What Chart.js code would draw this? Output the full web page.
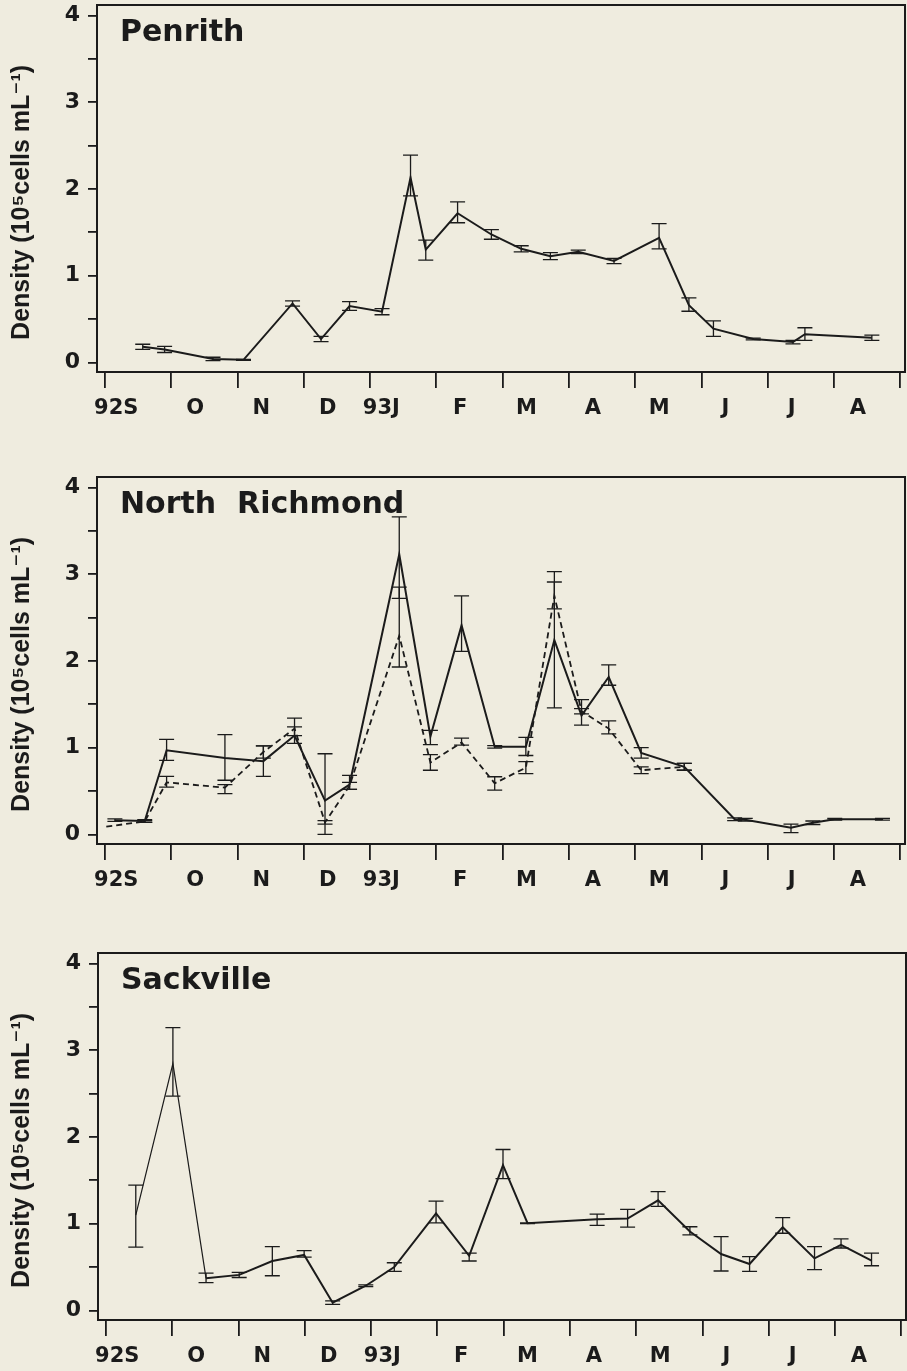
<!DOCTYPE html>
<html>
<head>
<meta charset="utf-8">
<script src="https://cdn.jsdelivr.net/npm/chart.js@4.4.1/dist/chart.umd.min.js"></script>
<style>
  html, body { margin: 0; padding: 0; background: #efecdf; }
  #page { position: relative; width: 907px; height: 1371px; overflow: hidden; }
  canvas.panel { position: absolute; left: 0; }
</style>
</head>
<body>
<div id="page">
  <canvas id="penrith" class="panel"></canvas>
  <canvas id="richmond" class="panel"></canvas>
  <canvas id="sackville" class="panel"></canvas>
</div>
<script>
// Month labels along the time axis (month 0 = September 1992)
const monthLabels = ['92S', 'O', 'N', 'D', '93J', 'F', 'M', 'A', 'M', 'J', 'J', 'A'];
// Density axis, 10^5 cells per mL
const densityTicks = [0, 1, 2, 3, 4];

// Penrith: sampling time (months after 1 Sep 1992), mean density, error bar ends
const penrithMonth = [0.57, 0.90, 1.63, 2.09, 2.83, 3.26, 3.69, 4.18, 4.61, 4.84, 5.32, 5.83, 6.28, 6.72, 7.14, 7.68, 8.36, 8.81, 9.18, 9.78, 10.38, 10.56, 11.57];
const penrithMean  = [0.18, 0.15, 0.04, 0.03, 0.68, 0.27, 0.65, 0.585, 2.13, 1.30, 1.72, 1.475, 1.31, 1.225, 1.275, 1.17, 1.435, 0.66, 0.39, 0.27, 0.235, 0.325, 0.285];
const penrithLow   = [0.15, 0.115, 0.02, 0.025, 0.65, 0.24, 0.60, 0.55, 1.92, 1.18, 1.61, 1.42, 1.275, 1.185, 1.255, 1.14, 1.31, 0.59, 0.30, 0.26, 0.215, 0.255, 0.255];
const penrithHigh  = [0.21, 0.185, 0.06, 0.035, 0.71, 0.30, 0.70, 0.62, 2.39, 1.41, 1.85, 1.53, 1.345, 1.265, 1.295, 1.20, 1.60, 0.745, 0.48, 0.28, 0.255, 0.40, 0.315];

// North Richmond, first series (solid line)
const richmondAMonth = [0.15, 0.60, 0.93, 1.81, 2.39, 2.86, 3.32, 3.69, 4.44, 4.91, 5.38, 5.88, 6.35, 6.78, 7.19, 7.60, 8.09, 8.74, 9.50, 9.66, 10.35, 10.68, 11.01, 11.73];
const richmondAMean  = [0.165, 0.155, 0.97, 0.88, 0.845, 1.14, 0.39, 0.575, 3.23, 1.13, 2.41, 1.01, 1.01, 2.24, 1.37, 1.815, 0.94, 0.78, 0.175, 0.17, 0.077, 0.135, 0.175, 0.175];
const richmondALow   = [0.15, 0.14, 0.855, 0.625, 0.67, 1.05, 0.0, 0.52, 2.72, 1.035, 2.11, 0.995, 0.91, 1.46, 1.26, 1.72, 0.88, 0.74, 0.16, 0.155, 0.02, 0.115, 0.165, 0.165];
const richmondAHigh  = [0.18, 0.17, 1.095, 1.15, 1.02, 1.24, 0.93, 0.68, 3.66, 1.2, 2.75, 1.025, 1.12, 3.03, 1.555, 1.955, 1.0, 0.82, 0.19, 0.185, 0.12, 0.155, 0.185, 0.185];

// North Richmond, second series (dashed line)
const richmondBMonth = [0.02, 0.60, 0.93, 1.81, 2.39, 2.86, 3.32, 3.69, 4.44, 4.91, 5.38, 5.88, 6.35, 6.78, 7.19, 7.60, 8.09, 8.74];
const richmondBMean  = [0.09, 0.15, 0.60, 0.54, 0.95, 1.22, 0.14, 0.56, 2.29, 0.83, 1.06, 0.59, 0.77, 2.75, 1.42, 1.22, 0.74, 0.78];
const richmondBLow   = [0.09, 0.14, 0.545, 0.47, 0.88, 1.14, 0.12, 0.52, 1.93, 0.74, 1.03, 0.51, 0.70, 2.60, 1.39, 1.16, 0.70, 0.74];
const richmondBHigh  = [0.09, 0.16, 0.67, 0.575, 1.02, 1.34, 0.16, 0.60, 2.85, 0.92, 1.11, 0.665, 0.84, 2.91, 1.45, 1.31, 0.78, 0.82];

// Sackville
const sackvilleMonth = [0.45, 1.01, 1.51, 2.01, 2.51, 2.99, 3.42, 3.92, 4.35, 4.98, 5.48, 5.99, 6.36, 7.41, 7.87, 8.33, 8.81, 9.28, 9.71, 10.21, 10.69, 11.09, 11.55];
const sackvilleMean  = [1.10, 2.845, 0.37, 0.41, 0.57, 0.64, 0.09, 0.285, 0.50, 1.12, 0.63, 1.675, 1.005, 1.05, 1.06, 1.27, 0.91, 0.65, 0.535, 0.96, 0.60, 0.755, 0.575];
const sackvilleLow   = [0.73, 2.47, 0.32, 0.38, 0.40, 0.615, 0.07, 0.275, 0.45, 1.01, 0.57, 1.52, 1.0, 0.98, 0.96, 1.20, 0.87, 0.455, 0.45, 0.89, 0.47, 0.72, 0.515];
const sackvilleHigh  = [1.445, 3.26, 0.43, 0.44, 0.735, 0.69, 0.11, 0.295, 0.55, 1.26, 0.66, 1.855, 1.01, 1.11, 1.165, 1.37, 0.965, 0.85, 0.62, 1.07, 0.735, 0.825, 0.66];

// ---- drawing ----
const INK = '#1b1b1b';
const PLOT_W = 808, PLOT_H = 367, TOP_PAD = 24, TICK_LEN = 16, LABEL_H = 46;
const X_MIN = -0.12, X_MAX = 12.07, Y_MIN = -0.11, Y_MAX = 4.12;

const points = (xs, ys) => xs.map((x, i) => ({ x, y: ys[i] }));

// Vertical error bars with caps, placed through the chart's own scales
const errorBars = {
  id: 'errorBars',
  afterDatasetsDraw(chart) {
    const { ctx } = chart;
    const xs = chart.scales.x, ys = chart.scales.y;
    chart.data.datasets.forEach(ds => {
      if (!ds.errLow) return;
      ctx.save();
      ctx.strokeStyle = INK;
      ctx.lineWidth = 1.3;
      ds.data.forEach((p, i) => {
        const lo = ds.errLow[i], hi = ds.errHigh[i];
        if (hi - lo < 1e-6) return;
        const px = xs.getPixelForValue(p.x);
        const y1 = ys.getPixelForValue(lo), y2 = ys.getPixelForValue(hi);
        ctx.beginPath();
        ctx.moveTo(px, y1); ctx.lineTo(px, y2);
        ctx.moveTo(px - 7.5, y1); ctx.lineTo(px + 7.5, y1);
        ctx.moveTo(px - 7.5, y2); ctx.lineTo(px + 7.5, y2);
        ctx.stroke();
      });
      ctx.restore();
    });
  }
};

// Box round the plotting area and the site name in its upper left corner
const frameAndName = {
  id: 'frameAndName',
  afterDraw(chart, args, opts) {
    const { ctx, chartArea: a } = chart;
    ctx.save();
    ctx.strokeStyle = INK;
    ctx.lineWidth = 2;
    ctx.strokeRect(a.left, a.top, a.right - a.left, a.bottom - a.top);
    ctx.fillStyle = INK;
    ctx.font = 'bold 30px "DejaVu Sans"';
    ctx.textBaseline = 'alphabetic';
    ctx.textAlign = 'left';
    ctx.fillText(opts.text, a.left + 23, a.top + 36);
    ctx.restore();
  }
};

const halfSteps = [];
densityTicks.forEach((v, i) => {
  halfSteps.push(v);
  if (i < densityTicks.length - 1) halfSteps.push(v + 0.5);
});

function buildPanel(id, frameTop, frameLeft, name, datasets) {
  const canvas = document.getElementById(id);
  const H = TOP_PAD + PLOT_H + TICK_LEN + LABEL_H;
  canvas.width = 907;
  canvas.height = H;
  canvas.style.width = '907px';
  canvas.style.height = H + 'px';
  canvas.style.top = (frameTop - TOP_PAD) + 'px';

  return new Chart(canvas, {
    type: 'line',
    data: { datasets },
    plugins: [errorBars, frameAndName],
    options: {
      responsive: false,
      animation: false,
      devicePixelRatio: 1,
      layout: { padding: { top: TOP_PAD, right: 907 - frameLeft - PLOT_W, left: 0, bottom: 0 } },
      plugins: {
        legend: { display: false },
        tooltip: { enabled: false },
        frameAndName: { text: name }
      },
      elements: {
        point: { radius: 0, hoverRadius: 0 },
        line: { tension: 0, borderWidth: 2, borderColor: INK, fill: false }
      },
      scales: {
        x: {
          type: 'linear', position: 'bottom', weight: 0,
          min: X_MIN, max: X_MAX,
          afterBuildTicks: s => { s.ticks = monthLabels.concat(['']).map((_, i) => ({ value: i })); },
          ticks: { display: false },
          grid: { drawOnChartArea: false, drawTicks: true, tickLength: TICK_LEN, lineWidth: 1.8, color: INK },
          border: { display: false },
          afterFit: s => { s.height = TICK_LEN; }
        },
        xl: {
          type: 'linear', position: 'bottom', weight: 1,
          min: X_MIN, max: X_MAX,
          afterBuildTicks: s => {
            s.ticks = monthLabels.map((t, i) => ({ value: i + (t.length > 1 ? 0.17 : 0.36) }));
          },
          ticks: {
            autoSkip: false, maxRotation: 0, minRotation: 0, padding: 8, color: INK,
            font: { family: '"DejaVu Sans"', weight: 'bold', size: 21 },
            callback: (v, i) => monthLabels[i]
          },
          grid: { display: false, drawTicks: false },
          border: { display: false },
          afterFit: s => { s.height = LABEL_H; }
        },
        y: {
          type: 'linear', position: 'left',
          min: Y_MIN, max: Y_MAX,
          afterBuildTicks: s => { s.ticks = halfSteps.map(v => ({ value: v })); },
          ticks: {
            autoSkip: false, padding: 8, color: INK,
            font: { family: '"DejaVu Sans"', weight: 'bold', size: 22 },
            callback: v => (Number.isInteger(v) ? String(v) : '')
          },
          grid: { drawOnChartArea: false, drawTicks: true, tickLength: 9, lineWidth: 1.8, color: INK },
          border: { display: false },
          title: {
            display: true,
            text: 'Density (10\u2075cells mL\u207B\u00B9)    ',
            color: INK,
            font: { family: '"Liberation Sans", "DejaVu Sans"', weight: 'bold', size: 25 },
            padding: { top: 7, bottom: 0 }
          },
          afterFit: s => { s.width = frameLeft; }
        }
      }
    }
  });
}

function series(xs, ys, lo, hi, extra) {
  return Object.assign({
    data: points(xs, ys),
    errLow: lo, errHigh: hi,
    borderColor: INK, borderWidth: 2, pointRadius: 0,
    xAxisID: 'x', yAxisID: 'y'
  }, extra || {});
}

buildPanel('penrith', 5, 97, 'Penrith', [
  series(penrithMonth, penrithMean, penrithLow, penrithHigh)
]);

buildPanel('richmond', 477, 97, 'North  Richmond', [
  series(richmondAMonth, richmondAMean, richmondALow, richmondAHigh),
  series(richmondBMonth, richmondBMean, richmondBLow, richmondBHigh, { borderDash: [6, 4], borderWidth: 1.8 })
]);

buildPanel('sackville', 953, 98, 'Sackville', [
  series(sackvilleMonth, sackvilleMean, sackvilleLow, sackvilleHigh, {
    segment: { borderWidth: c => (c.p0DataIndex < 2 ? 1.2 : undefined) }
  })
]);
</script>
</body>
</html>
